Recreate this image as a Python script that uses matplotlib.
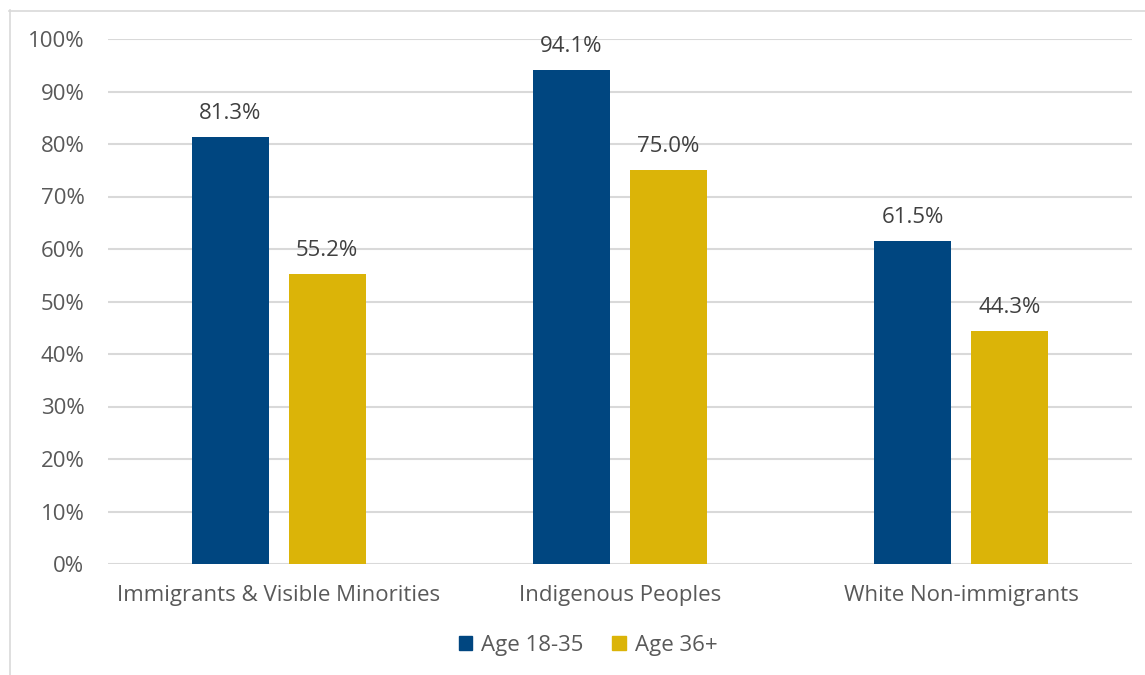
import matplotlib.pyplot as plt
import numpy as np
from matplotlib.lines import Line2D
from matplotlib.patches import Patch

plt.rcParams['font.family'] = ['Open Sans', 'DejaVu Sans']

categories = ['Immigrants & Visible Minorities', 'Indigenous Peoples', 'White Non-immigrants']
series_names = ['Age 18-35', 'Age 36+']
young = [81.3, 94.1, 61.5]
older = [55.2, 75.0, 44.3]
colors = ['#004680', '#dbb408']
text_color = '#595959'
label_color = '#404040'

fig = plt.figure(figsize=(11.45, 6.75), dpi=100)
W, H = 1145, 675
ax = fig.add_axes([108 / W, 1 - 564 / H, (1132 - 108) / W, (564 - 39) / H])

x = np.arange(len(categories))
bw = 0.225
off = 0.142
b1 = ax.bar(x - off, young, bw, color=colors[0], zorder=3)
b2 = ax.bar(x + off, older, bw, color=colors[1], zorder=3)

for bars in (b1, b2):
    for b in bars:
        ax.annotate(f'{b.get_height():.1f}%', (b.get_x() + b.get_width() / 2, b.get_height()),
                    xytext=(0, 9.5), textcoords='offset points', ha='center', va='bottom',
                    fontsize=16, color=label_color)

ax.set_xlim(-0.5, len(categories) - 0.5)
ax.set_ylim(0, 100)
ax.set_yticks(np.arange(0, 101, 10))
ax.set_yticklabels([f'{v}%' for v in range(0, 101, 10)])
ax.set_xticks(x)
ax.set_xticklabels(categories)
ax.tick_params(length=0, labelsize=16, colors=text_color)
ax.tick_params(axis='y', pad=17)
ax.tick_params(axis='x', pad=15)
ax.grid(axis='y', color='#d9d9d9', linewidth=1.5, zorder=0)
for s in ax.spines.values():
    s.set_visible(False)

handles = [Patch(color=c) for c in colors]
fig.legend(handles, series_names, loc='center', bbox_to_anchor=(588 / W, 1 - 645 / H),
           ncol=2, frameon=False, fontsize=16, handlelength=0.6, handleheight=0.6,
           handletextpad=0.4, columnspacing=1.3, labelcolor=text_color)

# chart border
fig.add_artist(Line2D([9.5 / W, 9.5 / W], [0, 1 - 10 / H], color='#d9d9d9', linewidth=1.2))
fig.add_artist(Line2D([9 / W, 1], [1 - 10.5 / H, 1 - 10.5 / H], color='#d9d9d9', linewidth=1.2))

fig.savefig('out.png', dpi=100, facecolor='white')
